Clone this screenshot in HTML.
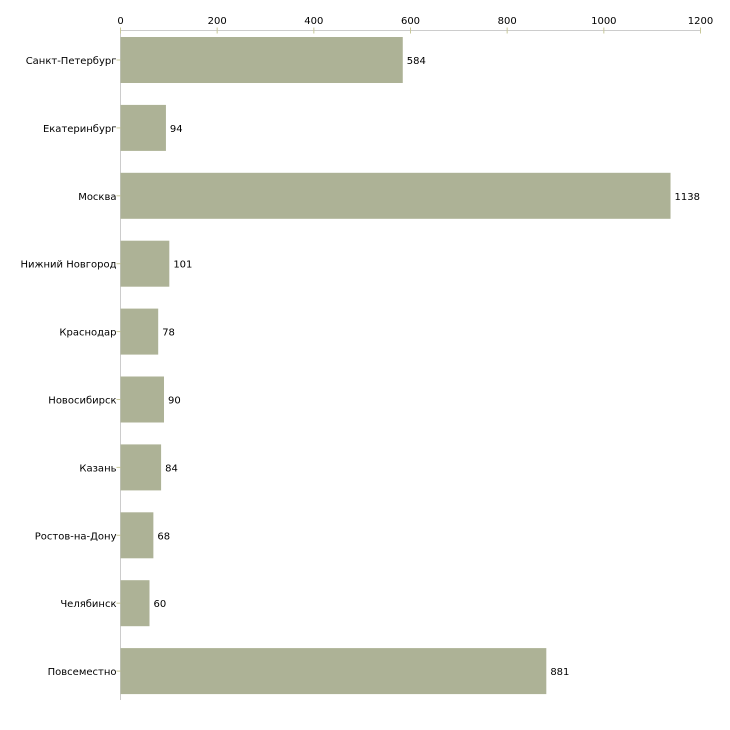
<!DOCTYPE html>
<html><head><meta charset="utf-8"><style>
body{margin:0;background:#fff;}
svg{display:block;font-family:"DejaVu Sans","Liberation Sans",sans-serif;font-size:10px;}
</style></head><body>
<svg id="chart" width="730" height="730" xmlns="http://www.w3.org/2000/svg"></svg>
<script>
const categories=["Санкт-Петербург","Екатеринбург","Москва","Нижний Новгород","Краснодар","Новосибирск","Казань","Ростов-на-Дону","Челябинск","Повсеместно"];
const values=[584,94,1138,101,78,90,84,68,60,881];
const ticks=[0,200,400,600,800,1000,1200];
const NS="http://www.w3.org/2000/svg";
const svgEl=document.getElementById('chart');
const x0=120.5,x1=700.5,maxV=1200,axisTop=30.5,axisBottom=700,step=67.9,bandTop=37,barH=46;
const xs=v=>x0+(v/maxV)*(x1-x0);
const yc=i=>bandTop+barH/2+i*step;
function mk(t,a){const e=document.createElementNS(NS,t);for(const k in a)e.setAttribute(k,a[k]);svgEl.appendChild(e);return e;}
let l=mk('line',{x1:x0,y1:axisTop,x2:x1,y2:axisTop,stroke:'#ccc'});


l=mk('line',{x1:x0,y1:axisTop,x2:x0,y2:axisBottom,stroke:'#ccc'});


ticks.forEach(t=>{
 const tk=mk('line',{x1:xs(t),y1:axisTop-3,x2:xs(t),y2:axisTop+3,stroke:'#c8c89a'});
 
 
 const tx=mk('text',{x:xs(t),y:24,'text-anchor':'middle',fill:'#000'});
 tx.textContent=t;
 
 
});
categories.forEach((c,i)=>{
 const y=yc(i);
 const tk=mk('line',{x1:x0-4,y1:y,x2:x0,y2:y,stroke:'#c8c89a'});
 
 
 const lb=mk('text',{x:x0-4,y:y+4,'text-anchor':'end',fill:'#000'});
 lb.textContent=c;
 
 
 const r=mk('rect',{x:x0,y:y-barH/2,width:xs(values[i])-x0,height:barH,fill:'#adb296'});
 
 
 const v=mk('text',{x:xs(values[i])+4,y:y+4,fill:'#000'});
 v.textContent=values[i];
 
 
});
</script>
</body></html>
